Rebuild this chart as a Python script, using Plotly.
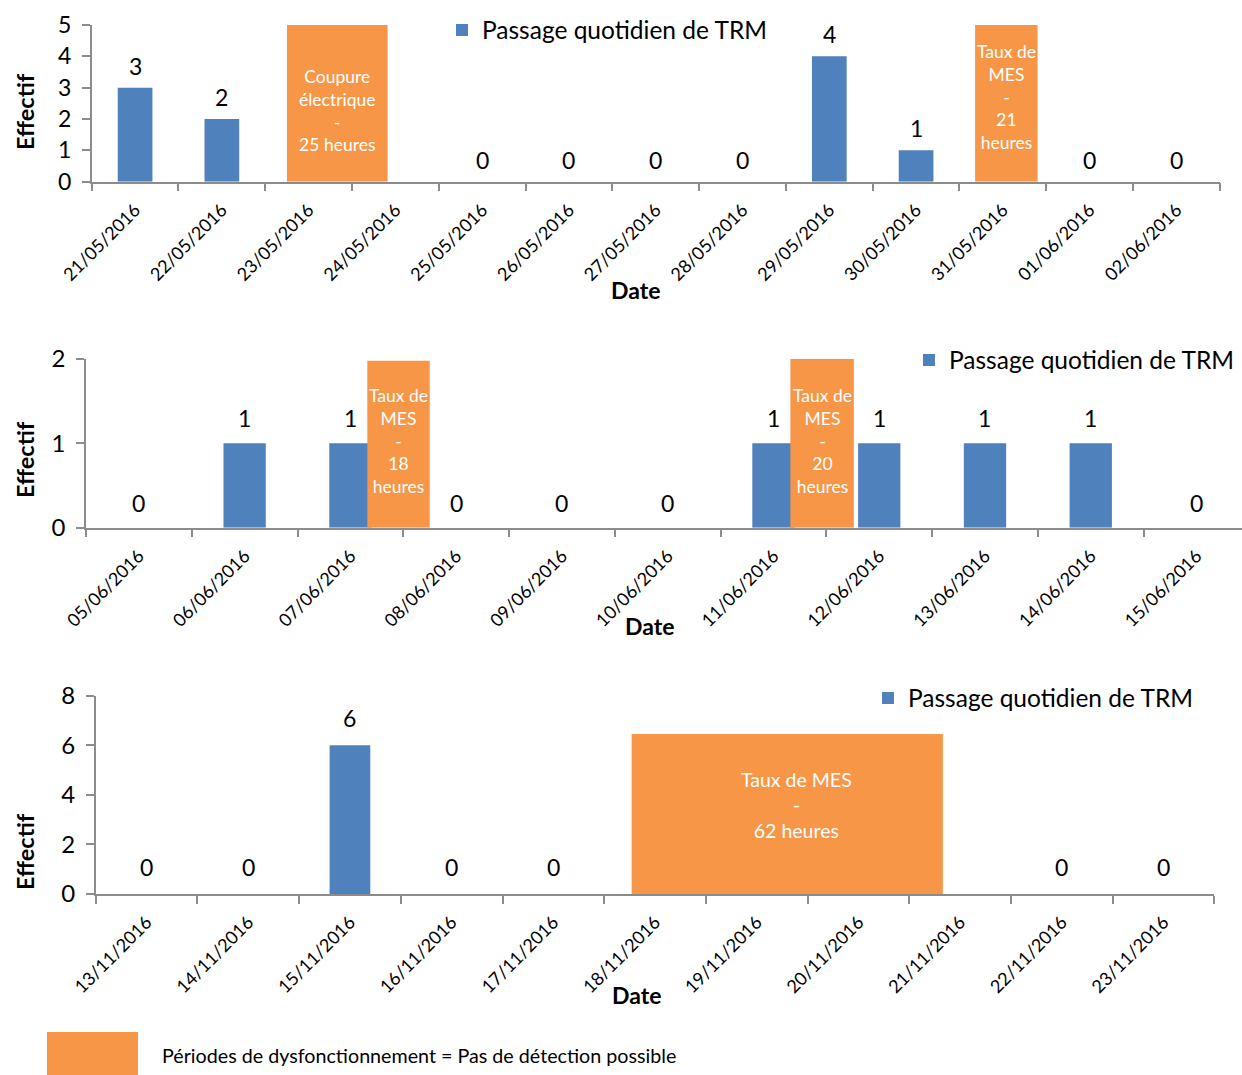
import plotly.graph_objects as go

W, H = 1242, 1075

# ---------------- data ----------------
dates_mai = ["21/05/2016", "22/05/2016", "23/05/2016", "24/05/2016", "25/05/2016",
             "26/05/2016", "27/05/2016", "28/05/2016", "29/05/2016", "30/05/2016",
             "31/05/2016", "01/06/2016", "02/06/2016"]
trm_mai = [3, 2, None, None, 0, 0, 0, 0, 4, 1, None, 0, 0]

dates_juin = ["05/06/2016", "06/06/2016", "07/06/2016", "08/06/2016", "09/06/2016",
              "10/06/2016", "11/06/2016", "12/06/2016", "13/06/2016", "14/06/2016",
              "15/06/2016"]
trm_juin = [0, 1, 1, 0, 0, 0, 1, 1, 1, 1, 0]

dates_nov = ["13/11/2016", "14/11/2016", "15/11/2016", "16/11/2016", "17/11/2016",
             "18/11/2016", "19/11/2016", "20/11/2016", "21/11/2016", "22/11/2016",
             "23/11/2016"]
trm_nov = [0, 0, 6, 0, 0, None, None, None, None, 0, 0]

# malfunction periods: start / end (in days on the category axis), top, caption
pannes_mai_debut = [1.75, 9.68]
pannes_mai_fin = [2.91, 10.40]
pannes_mai_haut = [5.0, 5.0]
pannes_mai_texte = ["Coupure<br>électrique<br>-<br>25 heures", "Taux de<br>MES<br>-<br>21<br>heures"]

pannes_juin_debut = [2.16, 6.16]
pannes_juin_fin = [2.75, 6.76]
pannes_juin_haut = [1.98, 2.0]
pannes_juin_texte = ["Taux de<br>MES<br>-<br>18<br>heures", "Taux de<br>MES<br>-<br>20<br>heures"]

pannes_nov_debut = [4.77]
pannes_nov_fin = [7.83]
pannes_nov_haut = [6.45]
pannes_nov_texte = ["Taux de MES<br>-<br>62 heures"]

serie_nom = "Passage quotidien de TRM"
legende_panne = "Périodes de dysfonctionnement = Pas de détection possible"

# ---------------- styling ----------------
FONT = "Lato"
BLUE = "#4F81BD"
ORANGE = "#F79646"
AXIS = "#8C8C8C"


def px(x):
    return x / W


def py(y):
    return 1 - y / H


panels = [
    dict(dates=dates_mai, vals=trm_mai,
         p0=pannes_mai_debut, p1=pannes_mai_fin, ptop=pannes_mai_haut, ptxt=pannes_mai_texte,
         ymax=5, dtick=1, xdom=(91.7, 1219.8), ydom=(25, 181.7), xr=(-0.5, 12.5),
         label_shift=6, txt_size=17.5, txt_dy=[-7, 6], txt_dx=[0, 0],
         leg=dict(x=442, y=30), date=(635, 290), eff=112, ytick=23),
    dict(dates=dates_juin, vals=trm_juin,
         p0=pannes_juin_debut, p1=pannes_juin_fin, ptop=pannes_juin_haut, ptxt=pannes_juin_texte,
         ymax=2, dtick=1, xdom=(86, 1242), ydom=(359, 527.7), xr=(-0.5, 10.43),
         label_shift=9, txt_size=17.5, txt_dy=[3.5, 2.5], txt_dx=[0, 0],
         leg=dict(x=909, y=360), date=(649, 626), eff=460, ytick=24),
    dict(dates=dates_nov, vals=trm_nov,
         p0=pannes_nov_debut, p1=pannes_nov_fin, ptop=pannes_nov_haut, ptxt=pannes_nov_texte,
         ymax=8, dtick=2, xdom=(95.7, 1214.4), ydom=(695.7, 894), xr=(-0.5, 10.5),
         label_shift=11, txt_size=19.5, txt_dy=[9.5], txt_dx=[9],
         leg=dict(x=868, y=698), date=(636, 995), eff=852, ytick=24),
]

fig = go.Figure()
shapes = []
annotations = []
layout = {}

for i, p in enumerate(panels, start=1):
    sfx = "" if i == 1 else str(i)
    xa, ya = "x" + sfx, "y" + sfx
    leg = "legend" + sfx

    fig.add_trace(go.Bar(
        x=p["dates"], y=p["vals"], name=serie_nom,
        marker=dict(color=BLUE, line=dict(width=0)),
        width=0.4, xaxis=xa, yaxis=ya, legend=leg,
        hoverinfo="x+y",
    ))

    layout["xaxis" + sfx] = dict(
        domain=[px(p["xdom"][0]), px(p["xdom"][1])], anchor=ya,
        type="category", range=list(p["xr"]), automargin=False,
        showline=True, linecolor=AXIS, linewidth=1.5,
        ticks="outside", tickson="boundaries", ticklen=8, tickcolor=AXIS, tickwidth=1.5,
        tickangle=-45, tickfont=dict(family=FONT, size=18, color="black"),
        ticklabelstandoff=9,
        showgrid=False, zeroline=False, fixedrange=True,
    )
    layout["yaxis" + sfx] = dict(
        domain=[py(p["ydom"][1]), py(p["ydom"][0])], anchor=xa,
        range=[0, p["ymax"]], dtick=p["dtick"], tick0=0, automargin=False,
        showline=True, linecolor=AXIS, linewidth=1.5,
        ticks="outside", ticklen=8, tickcolor=AXIS, tickwidth=1.5,
        tickfont=dict(family=FONT, size=p["ytick"], color="black"),
        ticklabelstandoff=6,
        showgrid=False, zeroline=False, fixedrange=True,
    )
    layout[leg] = dict(
        x=px(p["leg"]["x"]), y=py(p["leg"]["y"]), xanchor="left", yanchor="middle",
        bgcolor="rgba(0,0,0,0)", borderwidth=0,
        font=dict(family=FONT, size=24.5, color="black"),
    )

    # value labels above each bar
    for k, v in enumerate(p["vals"]):
        if v is None:
            continue
        annotations.append(dict(
            x=k, y=v, xref=xa, yref=ya, text=str(v), showarrow=False,
            yanchor="bottom", yshift=p["label_shift"],
            font=dict(family=FONT, size=23, color="black"),
        ))

    # malfunction periods
    for j, (x0, x1, top, txt) in enumerate(zip(p["p0"], p["p1"], p["ptop"], p["ptxt"])):
        shapes.append(dict(
            type="rect", xref=xa, yref=ya, x0=x0, x1=x1, y0=0, y1=top,
            fillcolor=ORANGE, line=dict(width=0), layer="above",
        ))
        annotations.append(dict(
            x=(x0 + x1) / 2, y=top / 2, xref=xa, yref=ya, text=txt, showarrow=False,
            xanchor="center", yanchor="middle",
            yshift=p["txt_dy"][j], xshift=p["txt_dx"][j],
            font=dict(family=FONT, size=p["txt_size"], color="white"),
        ))

    # axis titles
    annotations.append(dict(
        x=px(p["date"][0]), y=py(p["date"][1]), xref="paper", yref="paper",
        text="<b>Date</b>", showarrow=False, xanchor="center", yanchor="middle",
        font=dict(family=FONT, size=23, color="black"),
    ))
    annotations.append(dict(
        x=px(25), y=py(p["eff"]), xref="paper", yref="paper",
        text="<b>Effectif</b>", showarrow=False, textangle=-90,
        xanchor="center", yanchor="middle",
        font=dict(family=FONT, size=23.5, color="black"),
    ))

# key for the malfunction periods
shapes.append(dict(
    type="rect", xref="paper", yref="paper",
    x0=px(47), x1=px(138), y0=py(1075), y1=py(1032),
    fillcolor=ORANGE, line=dict(width=0),
))
annotations.append(dict(
    x=px(160), y=py(1055), xref="paper", yref="paper", text=legende_panne,
    showarrow=False, xanchor="left", yanchor="middle",
    font=dict(family=FONT, size=19.7, color="black"),
))

fig.update_layout(
    width=W, height=H, margin=dict(l=0, r=0, t=0, b=0, autoexpand=False),
    paper_bgcolor="white", plot_bgcolor="white",
    showlegend=True, bargap=0.6,
    shapes=shapes, annotations=annotations,
    font=dict(family=FONT),
    **layout,
)

fig.write_html("out.html", config={"displayModeBar": False})
